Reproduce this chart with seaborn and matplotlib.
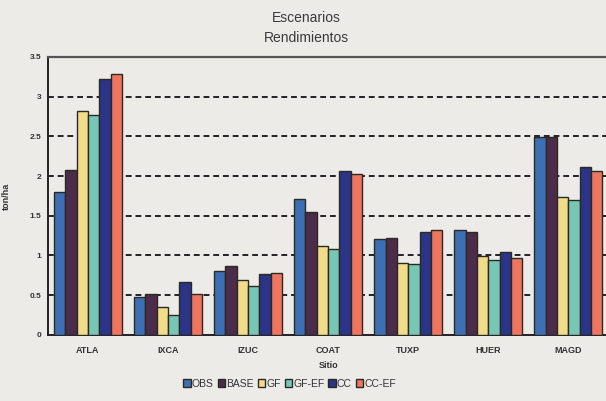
import matplotlib
matplotlib.use("Agg")
import matplotlib.pyplot as plt
import seaborn as sns
import pandas as pd
from matplotlib.ticker import FixedLocator

# Rendimiento (ton/ha) por sitio y escenario
sitios = ["ATLA", "IXCA", "IZUC", "COAT", "TUXP", "HUER", "MAGD"]
escenarios = ["OBS", "BASE", "GF", "GF-EF", "CC", "CC-EF"]
obs   = [1.80, 0.48, 0.80, 1.71, 1.21, 1.32, 2.49]
base  = [2.07, 0.52, 0.87, 1.55, 1.22, 1.30, 2.49]
gf    = [2.82, 0.35, 0.69, 1.12, 0.91, 0.99, 1.74]
gf_ef = [2.77, 0.25, 0.62, 1.08, 0.89, 0.94, 1.70]
cc    = [3.22, 0.66, 0.77, 2.06, 1.29, 1.04, 2.11]
cc_ef = [3.29, 0.52, 0.78, 2.02, 1.32, 0.97, 2.06]
colores = ["#3d6fb5", "#4b2c4a", "#f2dc8a", "#78c7b5", "#2c3487", "#ee7560"]

series = [obs, base, gf, gf_ef, cc, cc_ef]
df = pd.DataFrame(
    [(s, e, v) for e, vals in zip(escenarios, series) for s, v in zip(sitios, vals)],
    columns=["Sitio", "Escenario", "ton/ha"],
)

sns.set_theme(style="white")
plt.rcParams["font.family"] = ["Liberation Sans", "DejaVu Sans"]

bg = "#ecebe8"
fig = plt.figure(figsize=(6.06, 4.01), dpi=100, facecolor=bg)
ax = fig.add_axes([0.079, 0.165, 0.925, 0.693], facecolor=bg)

sns.barplot(
    data=df, x="Sitio", y="ton/ha", hue="Escenario",
    order=sitios, hue_order=escenarios, palette=colores,
    width=0.85, edgecolor="#2a2a22", linewidth=1.0, saturation=1,
    ax=ax, zorder=3,
)

ax.set_xlim(-0.5, 6.5)
ax.set_ylim(0, 3.5)
yt = [0, 0.5, 1, 1.5, 2, 2.5, 3, 3.5]
ax.set_yticks(yt)
ax.set_yticklabels(["0", "0.5", "1", "1.5", "2", "2.5", "3", "3.5"],
                   fontsize=6, fontweight="bold", color="#333333")
for y in yt[1:-1]:
    ax.axhline(y, color="#222222", linestyle=(0, (3, 2)), linewidth=1.4, zorder=1)

ax.set_xticklabels(sitios, fontsize=6.5, fontweight="bold", color="#333333")
ax.tick_params(axis="x", which="major", length=0, pad=8)
ax.xaxis.set_minor_locator(FixedLocator([i + 0.5 for i in range(6)]))
ax.tick_params(axis="x", which="minor", length=6, width=1, direction="inout", color="#222222")
ax.tick_params(axis="y", length=5, width=1, direction="inout", color="#222222", pad=2)

for side in ["left", "bottom"]:
    ax.spines[side].set_color("#222222")
    ax.spines[side].set_linewidth(1.4)
ax.spines["top"].set_color("#555555")
ax.spines["top"].set_linewidth(1.6)
ax.spines["right"].set_visible(False)

ax.set_xlabel("Sitio", fontsize=6.5, fontweight="bold", color="#333333", labelpad=4)
ax.set_ylabel("ton/ha", fontsize=6.5, fontweight="bold", color="#333333", labelpad=14)

handles, labels = ax.get_legend_handles_labels()
ax.legend(handles, labels, loc="center", bbox_to_anchor=(0.478, 0.043),
          bbox_transform=fig.transFigure,
          ncol=6, frameon=False, fontsize=7.5, handlelength=0.7, handleheight=0.7,
          handletextpad=0.1, columnspacing=0.4, labelcolor="#333333")

fig.text(0.505, 0.955, "Escenarios", ha="center", va="center", fontsize=10, color="#3a3a3a")
fig.text(0.505, 0.905, "Rendimientos", ha="center", va="center", fontsize=10, color="#3a3a3a")

fig.savefig("out.png", dpi=100, facecolor=bg)
